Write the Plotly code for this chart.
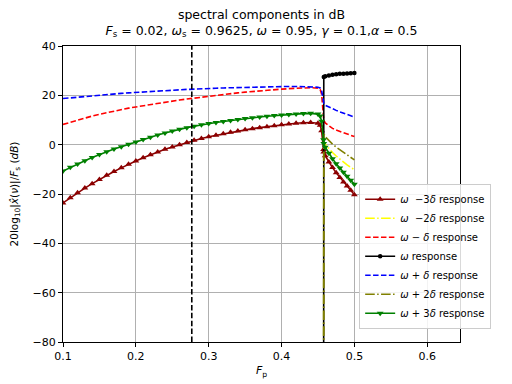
import plotly.graph_objects as go

# ----------------------------------------------------------
# data
# ----------------------------------------------------------

fp = [0.10, 0.11, 0.12, 0.13, 0.14, 0.15, 0.16, 0.17, 0.18, 0.19,
      0.20, 0.21, 0.22, 0.23, 0.24, 0.25, 0.26, 0.27, 0.28, 0.29,
      0.30, 0.31, 0.32, 0.33, 0.34, 0.35, 0.36, 0.37, 0.38, 0.39,
      0.40, 0.41, 0.42, 0.43, 0.44, 0.45, 0.453, 0.455, 0.4577, 0.458,
      0.46, 0.465, 0.47, 0.475, 0.48, 0.485, 0.49, 0.495, 0.50]

# omega - 3 delta
minus3 = [-23.6, -21.5, -19.5, -17.6, -15.8, -14.1, -12.4, -10.9, -9.4, -7.9,
          -6.6, -5.3, -4.1, -3.0, -1.9, -0.9, 0.0, 0.9, 1.8, 2.5,
          3.2, 3.8, 4.4, 5.0, 5.5, 6.0, 6.5, 6.9, 7.3, 7.7,
          8.1, 8.4, 8.7, 8.9, 9.0, 8.7, 7.9, 5.6, -2.0, -3.0,
          -4.5, -7.0, -9.3, -11.4, -13.3, -15.1, -16.8, -18.5, -20.3]

# omega - 2 delta (zero on the lower branch)
minus2 = [None] * 38 + [-200.0, 1.5,
                        0.2, -1.6, -3.2, -4.6, -5.9, -7.1, -8.2, -9.2, -10.1]

# omega - delta
minus1 = [8.2, 9.1, 10.0, 10.8, 11.6, 12.3, 13.0, 13.6, 14.2, 14.8,
          15.3, 15.8, 16.3, 16.8, 17.3, 17.7, 18.1, 18.5, 18.9, 19.3,
          19.7, 20.0, 20.4, 20.7, 21.0, 21.3, 21.6, 21.9, 22.1, 22.3,
          22.5, 22.7, 22.9, 23.0, 23.1, 22.9, 22.4, 20.5, 12.0, 10.0,
          8.8, 7.5, 6.6, 5.9, 5.3, 4.8, 4.3, 3.8, 3.3]

# omega
center = [None] * 38 + [-200.0, 27.4,
                        27.7, 28.0, 28.3, 28.5, 28.7, 28.8, 28.9, 29.0, 29.1]

# omega + delta
plus1 = [18.7, 19.0, 19.3, 19.6, 19.9, 20.1, 20.4, 20.6, 20.8, 21.0,
         21.2, 21.4, 21.6, 21.8, 22.0, 22.1, 22.3, 22.4, 22.5, 22.7,
         22.8, 22.9, 23.0, 23.1, 23.2, 23.3, 23.4, 23.5, 23.5, 23.6,
         23.6, 23.6, 23.6, 23.6, 23.5, 23.3, 23.0, 22.0, 17.5, 16.8,
         16.0, 15.2, 14.5, 13.9, 13.3, 12.7, 12.2, 11.7, 11.2]

# omega + 2 delta (zero on the lower branch)
plus2 = [None] * 38 + [-200.0, 4.5,
                       3.2, 1.5, 0.2, -1.0, -2.1, -3.2, -4.2, -5.2, -6.2]

# omega + 3 delta
plus3 = [-10.7, -9.2, -7.8, -6.5, -5.2, -4.0, -2.9, -1.8, -0.8, 0.2,
         1.1, 2.1, 3.0, 3.9, 4.7, 5.5, 6.2, 6.9, 7.5, 8.1,
         8.6, 9.0, 9.4, 9.8, 10.2, 10.6, 10.9, 11.2, 11.5, 11.8,
         12.0, 12.2, 12.4, 12.6, 12.7, 12.4, 11.6, 9.5, 2.0, 0.5,
         -1.0, -3.5, -5.7, -7.7, -9.5, -11.2, -12.8, -14.4, -16.0]

fp_marker = 0.2768

labels = [
    "<i>ω</i>  −3<i>δ</i> response",
    "<i>ω</i>  −2<i>δ</i> response",
    "<i>ω</i> − <i>δ</i> response",
    "<i>ω</i> response",
    "<i>ω</i> + <i>δ</i> response",
    "<i>ω</i> + 2<i>δ</i> response",
    "<i>ω</i> + 3<i>δ</i> response",
]

# ----------------------------------------------------------
# styles
# ----------------------------------------------------------

DASH = "5.5px,2.4px"
DASHDOT = "9.6px,2.4px,1.5px,2.4px"

styles = [
    dict(color="#8b0000", dash="solid", mode="lines+markers", symbol="triangle-up"),
    dict(color="#ffff00", dash=DASHDOT, mode="lines", symbol=None),
    dict(color="#ff0000", dash=DASH, mode="lines", symbol=None),
    dict(color="#000000", dash="solid", mode="lines+markers", symbol="circle"),
    dict(color="#0000ff", dash=DASH, mode="lines", symbol=None),
    dict(color="#808000", dash=DASHDOT, mode="lines", symbol=None),
    dict(color="#008000", dash="solid", mode="lines+markers", symbol="triangle-down"),
]

series = [minus3, minus2, minus1, center, plus1, plus2, plus3]

fig = go.Figure()

for name, values, st in zip(labels, series, styles):
    trace = dict(
        x=fp,
        y=values,
        name=name,
        mode=st["mode"],
        line=dict(color=st["color"], width=1.6, dash=st["dash"]),
    )
    if st["symbol"]:
        size = 4.5 if st["symbol"] == "circle" else 6
        trace["marker"] = dict(symbol=st["symbol"], size=size, color=st["color"],
                               line=dict(width=0))
    fig.add_trace(go.Scatter(**trace))

fig.add_shape(
    type="line",
    x0=fp_marker, x1=fp_marker, y0=0, y1=1,
    xref="x", yref="paper",
    line=dict(color="black", width=1.6, dash=DASH),
    layer="above",
)

axis_common = dict(
    showline=True,
    linecolor="black",
    linewidth=1,
    mirror=True,
    ticks="outside",
    ticklen=4,
    tickcolor="black",
    showgrid=True,
    gridcolor="#b0b0b0",
    gridwidth=1,
    zeroline=False,
    automargin=False,
    tickfont=dict(size=11, color="black"),
)

# the page body adds an 8px offset, so the figure is a little smaller
fig.update_layout(
    width=504,
    height=376,
    paper_bgcolor="white",
    plot_bgcolor="white",
    font=dict(family="DejaVu Sans", size=11, color="black"),
    margin=dict(l=55, r=52, t=38, b=42, autoexpand=False),
    title=dict(
        text="spectral components in dB<br>"
             "<i>F</i><sub>s</sub> = 0.02, <i>ω</i><sub>s</sub> = 0.9625, "
             "<i>ω</i> = 0.95, <i>γ</i> = 0.1,<i>α</i> = 0.5",
        x=0.5,
        xref="paper",
        xanchor="center",
        yref="container",
        y=0.972,
        yanchor="middle",
        font=dict(size=12.5),
        automargin=False,
    ),
    xaxis=dict(
        range=[0.1, 0.645],
        tickvals=[0.1, 0.2, 0.3, 0.4, 0.5, 0.6],
        ticktext=["0.1", "0.2", "0.3", "0.4", "0.5", "0.6"],
        title=dict(text="<i>F</i><sub>p</sub>", standoff=4, font=dict(size=11)),
        **axis_common,
    ),
    yaxis=dict(
        range=[-80, 40],
        tickvals=[-80, -60, -40, -20, 0, 20, 40],
        title=dict(
            text="20log<sub>10</sub>|<i>x̂</i>(<i>ν</i>)|/<i>F</i><sub>s</sub> (<i>dB</i>)",
            standoff=12,
            font=dict(size=10.5),
        ),
        **axis_common,
    ),
    legend=dict(
        x=0.746,
        y=0.045,
        xanchor="left",
        yanchor="bottom",
        bgcolor="rgba(255,255,255,0.85)",
        bordercolor="#cccccc",
        borderwidth=1,
        font=dict(size=10),
        tracegroupgap=0,
        itemwidth=30,
    ),
    showlegend=True,
)

fig.write_html("out.html")
